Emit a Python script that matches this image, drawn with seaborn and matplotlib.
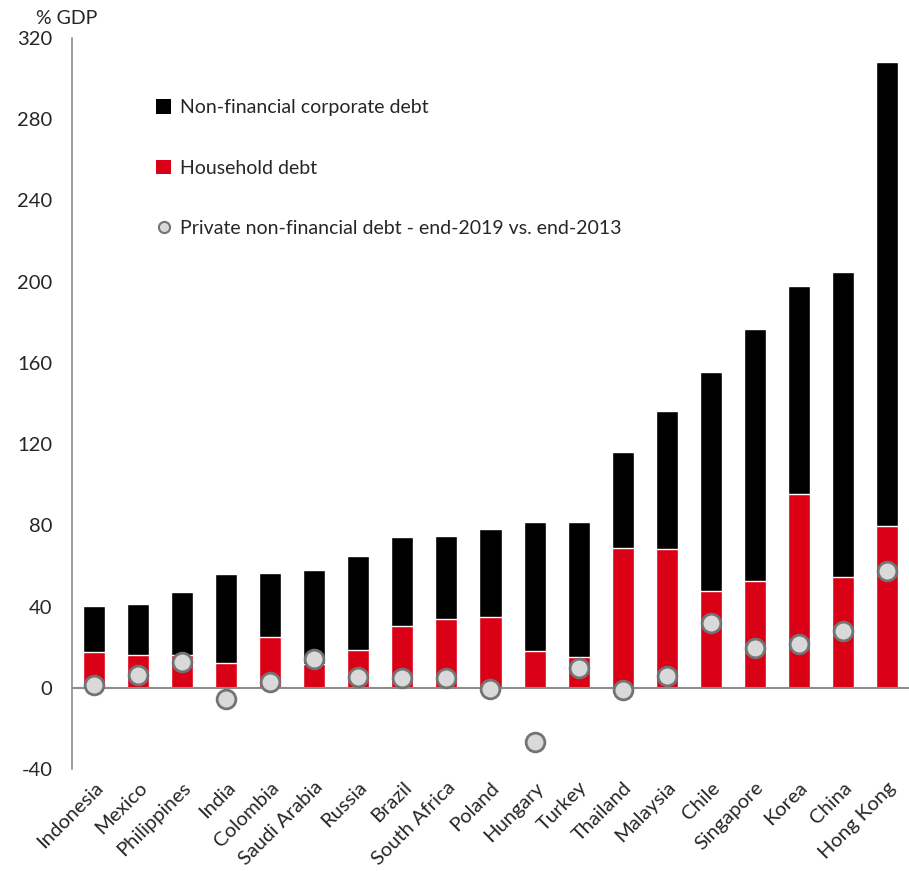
import matplotlib
matplotlib.use("Agg")
import matplotlib.pyplot as plt
from matplotlib.patches import Patch
from matplotlib.lines import Line2D
import seaborn as sns
import pandas as pd

countries = ["Indonesia", "Mexico", "Philippines", "India", "Colombia", "Saudi Arabia",
             "Russia", "Brazil", "South Africa", "Poland", "Hungary", "Turkey",
             "Thailand", "Malaysia", "Chile", "Singapore", "Korea", "China", "Hong Kong"]
# total private non-financial debt (corporate + household), % of GDP
total_debt = [40.2, 41.2, 47.3, 56.0, 56.5, 58.0, 65.0, 74.2, 74.8, 78.0, 81.4, 81.4,
              116.0, 136.4, 155.4, 176.6, 198.0, 204.7, 308.0]
household_debt = [17.7, 16.1, 16.2, 12.0, 25.1, 11.8, 18.7, 30.4, 34.0, 34.8, 18.2, 15.1,
                  68.8, 68.4, 47.6, 52.5, 95.4, 54.5, 79.6]
change_2013_2019 = [1.5, 6.1, 12.5, -5.4, 3.0, 14.3, 5.3, 4.8, 4.8, -0.6, -26.9, 9.5,
                    -1.0, 5.6, 32.0, 19.5, 21.8, 28.2, 57.6]
y_ticks = [-40, 0, 40, 80, 120, 160, 200, 240, 280, 320]

df = pd.DataFrame({"country": countries, "total": total_debt,
                   "household": household_debt, "change": change_2013_2019})

sns.set_style("white")
plt.rcParams["font.family"] = ["Lato", "DejaVu Sans"]

BLACK = "#000000"
RED = "#DA0016"
DOT_FACE = "#D9D9D9"
DOT_EDGE = "#737373"
AXIS_GREY = "#8C8C8C"

fig = plt.figure(figsize=(9.09, 8.71), dpi=100)
ax = fig.add_axes([0.0792, 0.1171, 0.9208, 0.8393])

sns.barplot(data=df, x="country", y="total", color=BLACK, width=0.5,
            saturation=1, ax=ax, zorder=2)
sns.barplot(data=df, x="country", y="household", color=RED, width=0.5,
            saturation=1, ax=ax, zorder=3)
sns.stripplot(data=df, x="country", y="change", jitter=False, size=13.5,
              color=DOT_FACE, edgecolor=DOT_EDGE, linewidth=2, ax=ax, zorder=4)

ax.set_xlim(-0.5, len(countries) - 0.5)
ax.set_ylim(-40, 320)
ax.set_yticks(y_ticks)
ax.set_yticklabels([str(t) for t in y_ticks])
ax.tick_params(axis="y", length=0, pad=14, labelsize=14.5)
ax.tick_params(axis="x", length=0, pad=7, labelsize=14.5)
for lbl in ax.get_xticklabels():
    lbl.set_rotation(45)
    lbl.set_ha("right")
    lbl.set_rotation_mode("anchor")
ax.set_xlabel("")
ax.set_ylabel("")

for side in ["top", "right", "bottom"]:
    ax.spines[side].set_visible(False)
ax.spines["left"].set_color(AXIS_GREY)
ax.spines["left"].set_linewidth(1.2)
ax.axhline(0, color=AXIS_GREY, linewidth=1.5, zorder=3.5)

handles = [
    Patch(facecolor=BLACK, edgecolor="none"),
    Patch(facecolor=RED, edgecolor="none"),
    Line2D([], [], linestyle="none", marker="o", markersize=8,
           markerfacecolor=DOT_FACE, markeredgecolor=DOT_EDGE, markeredgewidth=1.5),
]
labels = ["Non-financial corporate debt", "Household debt",
          "Private non-financial debt - end-2019 vs. end-2013"]
ax.legend(handles, labels, loc="upper left", bbox_to_anchor=(0.08, 0.940),
          frameon=False, fontsize=14, handlelength=0.75, handleheight=0.75,
          handletextpad=0.45, labelspacing=2.24)

fig.text(0.04, 0.988, "% GDP", fontsize=14, ha="left", va="top")

fig.savefig("out.png", dpi=100)
